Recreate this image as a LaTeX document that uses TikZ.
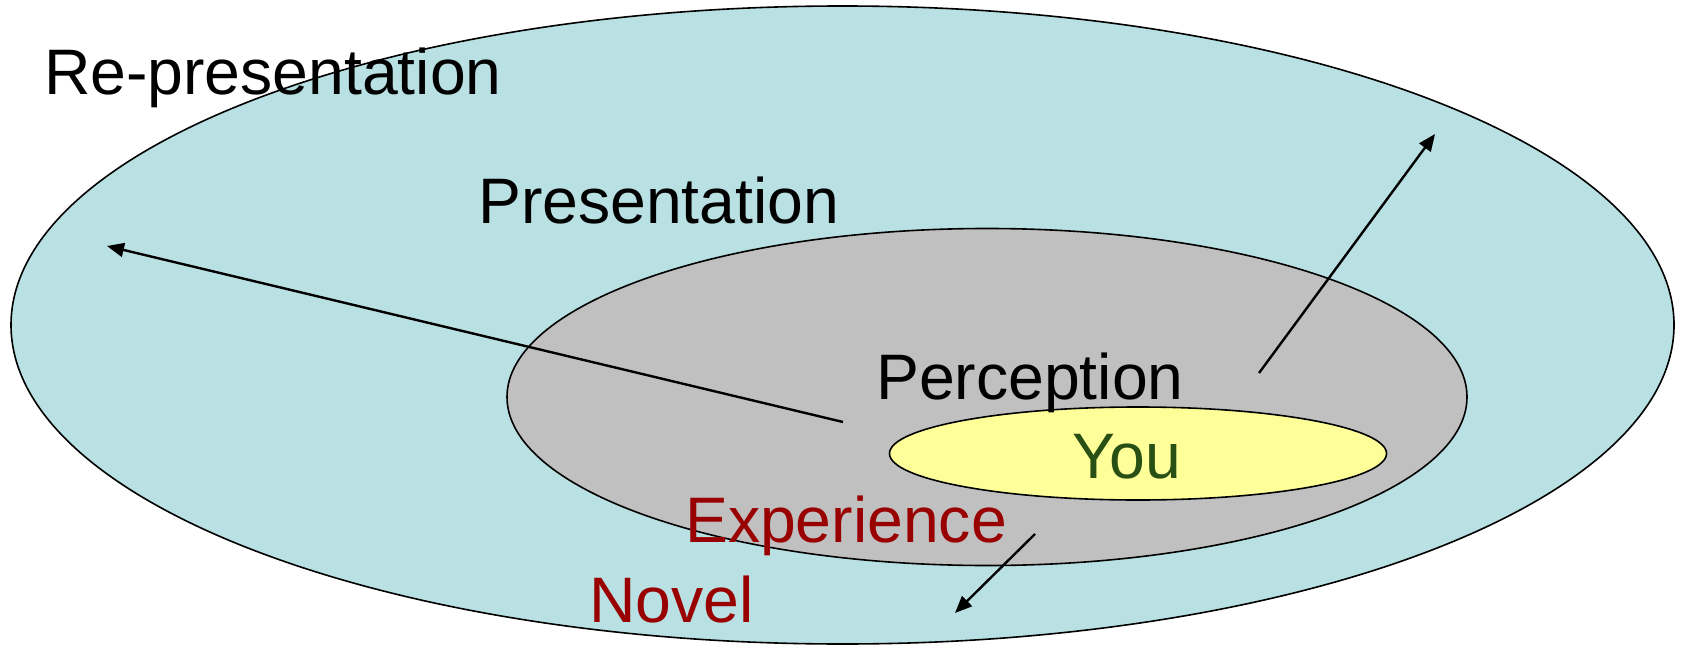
\documentclass[tikz,border=0pt]{standalone}
\usepackage{fontspec}
\setmainfont{Liberation Sans}
\usetikzlibrary{shapes.geometric,arrows.meta}
\definecolor{outerfill}{RGB}{185,224,227}
\definecolor{midfill}{RGB}{192,192,192}
\definecolor{innerfill}{RGB}{255,255,153}
\definecolor{lbldarkred}{RGB}{153,0,0}
\definecolor{lbldarkgreen}{RGB}{40,80,20}
\begin{document}
\begin{tikzpicture}[x=1pt,y=-1pt,
  region/.style={ellipse, draw=black, line width=1.6pt, inner sep=0pt},
  lbl/.style={anchor=base west, inner sep=0pt, font=\fontsize{64.3}{70}\selectfont},
  arr/.style={line width=2.4pt, -{Triangle[length=17pt,width=14pt]}}]
\useasboundingbox (0,0) rectangle (1683,647);
\node[region, fill=outerfill, minimum width=1663pt, minimum height=638pt] (outer) at (842.5,325) {};
\node[region, fill=midfill, minimum width=960pt, minimum height=337pt] (mid) at (987,397) {};
\node[region, fill=innerfill, minimum width=497pt, minimum height=93pt] (inner) at (1138,453.5) {};
\node[lbl] (rep) at (44,94.5) {Re-presentation};
\node[lbl] (pres) at (478,223) {Presentation};
\node[lbl] (perc) at (876,399) {Perception};
\node[lbl, text=lbldarkgreen] (you) at (1072,478) {You};
\node[lbl, text=lbldarkred] (exp) at (685,542) {Experience};
\node[lbl, text=lbldarkred] (nov) at (589,622.5) {Novel};
\coordinate (a1s) at (843,422);
\coordinate (a1e) at (107,246);
\coordinate (a2s) at (1259,373);
\coordinate (a2e) at (1435,134);
\coordinate (a3s) at (1035,534);
\coordinate (a3e) at (955,613);
\draw[arr] (a1s) -- (a1e);
\draw[arr] (a2s) -- (a2e);
\draw[arr] (a3s) -- (a3e);
\end{tikzpicture}
\end{document}
